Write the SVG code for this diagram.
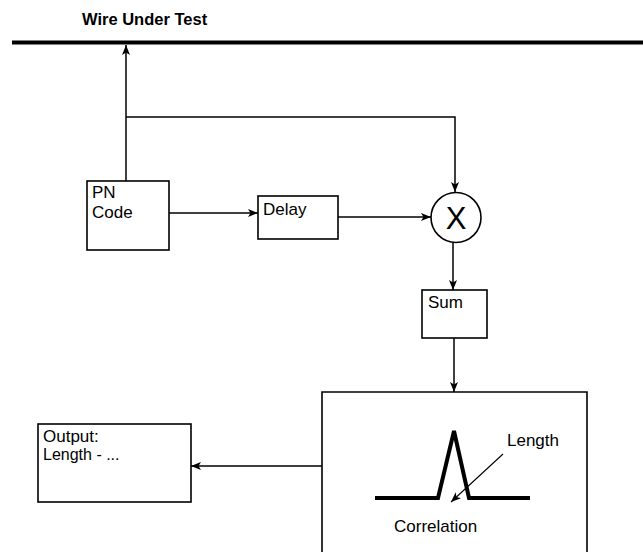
<svg xmlns="http://www.w3.org/2000/svg" width="643" height="552" viewBox="0 0 643 552">
  <style>
    text { font-family: "Liberation Sans", Arial, sans-serif; font-size: 17px; fill: #000; }
    .title { font-weight: bold; font-size: 16.5px; }
    .box { fill: #fff; stroke: #000; stroke-width: 1.6; }
    .conn { fill: none; stroke: #000; stroke-width: 1.5; }
    .thin { fill: none; stroke: #000; stroke-width: 1.1; }
  </style>
  <defs>
    <marker id="arrow" viewBox="0 0 10 8" refX="10" refY="4" markerWidth="10" markerHeight="8" markerUnits="userSpaceOnUse" orient="auto">
      <path d="M0,0 L10,4 L0,8 L2.5,4 Z" fill="#000"/>
    </marker>
  </defs>
  <rect width="643" height="552" fill="#fff"/>

  <g id="wire">
    <text class="title" x="82" y="25">Wire Under Test</text>
    <line x1="12" y1="42.5" x2="643" y2="42.5" stroke="#000" stroke-width="4"/>
  </g>

  <g id="connectors">
    <line class="conn" x1="126" y1="181" x2="126" y2="45" marker-end="url(#arrow)"/>
    <polyline class="conn" points="126,117 455,117 455,192" marker-end="url(#arrow)"/>
    <line class="conn" x1="169" y1="213" x2="258" y2="213" marker-end="url(#arrow)"/>
    <line class="conn" x1="338" y1="217" x2="431" y2="217" marker-end="url(#arrow)"/>
    <line class="conn" x1="453" y1="243" x2="453" y2="290" marker-end="url(#arrow)"/>
    <line class="conn" x1="454" y1="338" x2="454" y2="392" marker-end="url(#arrow)"/>
    <line class="conn" x1="322" y1="466" x2="191" y2="466" marker-end="url(#arrow)"/>
  </g>

  <g id="pn-code">
    <rect class="box" x="87" y="181" width="82" height="69"/>
    <text x="92" y="198">PN</text>
    <text x="92" y="218">Code</text>
  </g>

  <g id="delay">
    <rect class="box" x="258" y="196" width="80" height="43"/>
    <text x="263" y="215">Delay</text>
  </g>

  <g id="multiplier">
    <circle class="box" cx="456" cy="217.5" r="25"/>
    <text x="456" y="229" text-anchor="middle" style="font-size:31px">X</text>
  </g>

  <g id="sum">
    <rect class="box" x="422" y="290" width="65" height="48"/>
    <text x="428" y="308">Sum</text>
  </g>

  <g id="correlation">
    <path class="box" d="M322,553 V392 H587 V553"/>
    <polyline points="375,498 438,498 454,431 469,498 530,498" fill="none" stroke="#000" stroke-width="4" stroke-linejoin="miter"/>
    <text x="507" y="446">Length</text>
    <line class="thin" x1="503" y1="454" x2="451" y2="502" marker-end="url(#arrow)"/>
    <text x="394" y="532">Correlation</text>
  </g>

  <g id="output">
    <rect class="box" x="38" y="424" width="153" height="78"/>
    <text x="43" y="442">Output:</text>
    <text x="43" y="460" style="font-size:16px">Length - ...</text>
  </g>
</svg>
